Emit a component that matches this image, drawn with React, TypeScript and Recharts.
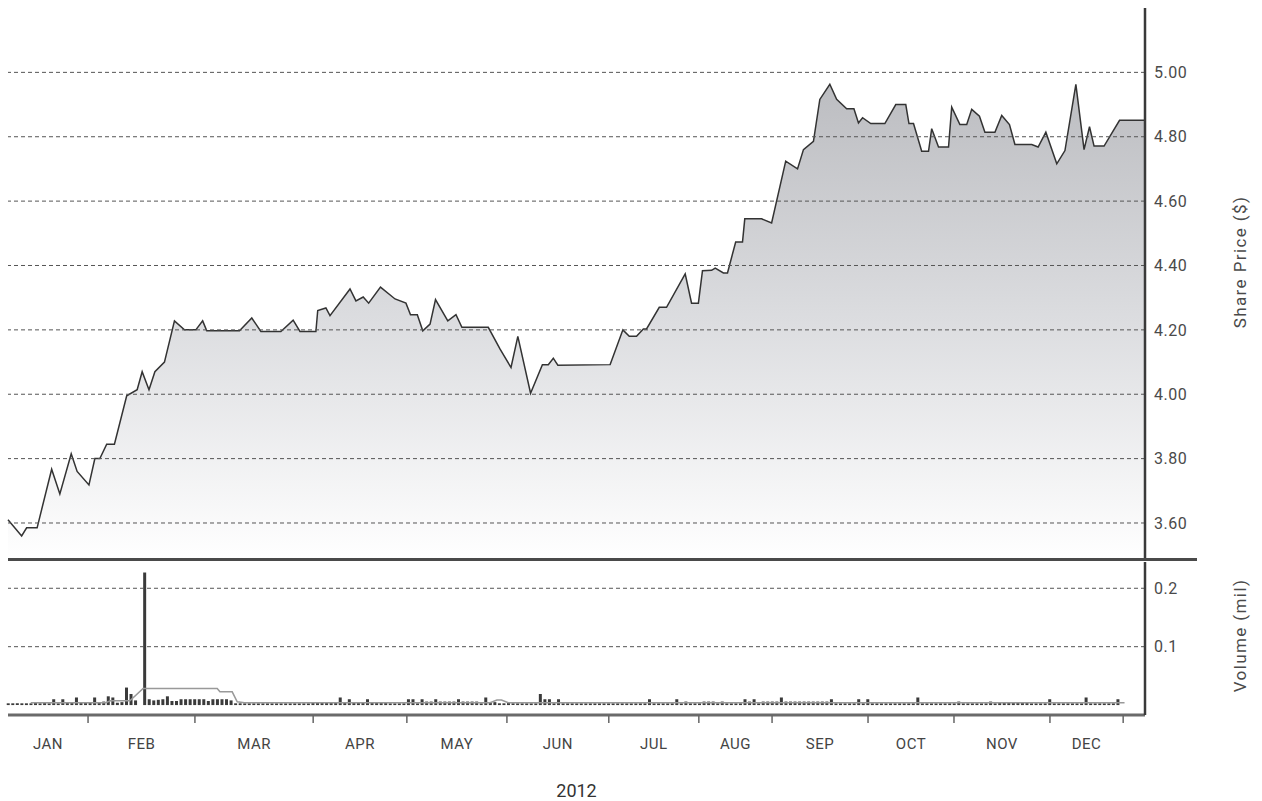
import React from 'react';
import { AreaChart, Area, ComposedChart, Bar, Line, XAxis, YAxis, ReferenceLine } from 'recharts';

// trading-day index (0..250) of each price point, and the closing price
const priceDays = [
  0, 3.0, 4.1, 6.4, 9.6, 11.4, 13.9, 15.2, 17.8, 19.1, 20.2, 21.7, 23.4, 26.1, 28.4, 29.5, 31.0, 32.3, 34.4,
  36.6, 38.8, 41.3, 42.8, 43.7, 50.9, 53.6, 55.6, 60.0, 62.7, 64.2, 67.7, 68.1, 69.9, 70.8, 75.2, 76.5, 78.1,
  79.3, 81.9, 85.1, 87.5, 88.5, 90.0, 91.2, 92.8, 94.0, 96.7, 98.5, 99.8, 105.6, 108.2, 110.6, 112.1, 114.9,
  117.5, 118.8, 119.9, 120.9, 132.4, 135.2, 136.6, 138.2, 139.7, 140.4, 143.2, 144.8, 148.9, 150.3, 151.8,
  152.7, 154.7, 155.5, 157.3, 158.2, 160.0, 161.5, 162.0, 165.7, 167.9, 171.0, 173.6, 174.9, 177.1, 178.5,
  180.7, 182.2, 184.4, 186.0, 187.0, 187.9, 189.7, 192.8, 195.2, 197.4, 198.1, 199.1, 200.9, 202.4, 203.1,
  204.6, 206.8, 207.5, 209.3, 210.8, 211.9, 213.6, 214.8, 217.0, 218.5, 220.2, 221.4, 225.1, 226.5, 228.2,
  230.6, 232.4, 234.8, 236.6, 237.8, 238.8, 241.0, 244.4, 250,
];
const prices = [
  3.61, 3.56, 3.585, 3.585, 3.767, 3.69, 3.815, 3.76, 3.718, 3.8, 3.8, 3.845, 3.845, 3.995, 4.014, 4.07, 4.014, 4.07, 4.1,
  4.228, 4.2, 4.2, 4.228, 4.197, 4.197, 4.237, 4.195, 4.195, 4.23, 4.195, 4.195, 4.26, 4.268, 4.244, 4.327, 4.29, 4.302,
  4.283, 4.333, 4.296, 4.283, 4.247, 4.247, 4.197, 4.218, 4.294, 4.228, 4.247, 4.208, 4.208, 4.14, 4.083, 4.18, 4.003,
  4.092, 4.092, 4.112, 4.09, 4.092, 4.2, 4.18, 4.18, 4.203, 4.203, 4.27, 4.27, 4.374, 4.283, 4.283,
  4.384, 4.385, 4.392, 4.377, 4.377, 4.473, 4.473, 4.545, 4.545, 4.532, 4.724, 4.7, 4.76, 4.786, 4.916,
  4.963, 4.916, 4.887, 4.887, 4.843, 4.859, 4.841, 4.841, 4.9, 4.9, 4.841, 4.841, 4.755, 4.755, 4.825,
  4.768, 4.768, 4.892, 4.838, 4.838, 4.885, 4.864, 4.814, 4.814, 4.866, 4.838, 4.776, 4.776, 4.768, 4.814,
  4.716, 4.757, 4.963, 4.76, 4.831, 4.771, 4.771, 4.851, 4.851,
];

// daily volume (mil), one value per trading day 0..249
const volumes = [
  0.003, 0.003, 0.003, 0.003, 0.003, 0.003, 0.004, 0.003, 0.005, 0.003,
  0.01, 0.003, 0.01, 0.004, 0.004, 0.013, 0.004, 0.005, 0.004, 0.013,
  0.005, 0.006, 0.015, 0.013, 0.004, 0.005, 0.03, 0.019, 0.008, 0,
  0.227, 0.01, 0.008, 0.009, 0.01, 0.015, 0.007, 0.007, 0.01, 0.01,
  0.01, 0.01, 0.01, 0.01, 0.007, 0.01, 0.01, 0.01, 0.01, 0.008,
  0.003, 0.003, 0.003, 0.003, 0.003, 0.003, 0.003, 0.003, 0.003, 0.003,
  0.003, 0.003, 0.003, 0.003, 0.003, 0.003, 0.003, 0.005, 0.005, 0.005,
  0.005, 0.005, 0.005, 0.013, 0.005, 0.01, 0.005, 0.005, 0.005, 0.01,
  0.005, 0.005, 0.005, 0.005, 0.003, 0.003, 0.003, 0.003, 0.01, 0.01,
  0.003, 0.01, 0.006, 0.006, 0.01, 0.006, 0.006, 0.006, 0.006, 0.01,
  0.006, 0.006, 0.006, 0.006, 0.003, 0.013, 0.005, 0.005, 0.003, 0.003,
  0.004, 0.003, 0.003, 0.003, 0.003, 0.003, 0.003, 0.019, 0.01, 0.01,
  0.003, 0.01, 0.003, 0.003, 0.003, 0.003, 0.003, 0.003, 0.003, 0.003,
  0.003, 0.003, 0.003, 0.003, 0.003, 0.003, 0.003, 0.003, 0.003, 0.003,
  0.003, 0.01, 0.003, 0.003, 0.003, 0.003, 0.003, 0.01, 0.003, 0.006,
  0.003, 0.003, 0.003, 0.006, 0.006, 0.006, 0.003, 0.006, 0.003, 0.003,
  0.003, 0.003, 0.01, 0.006, 0.01, 0.003, 0.006, 0.006, 0.006, 0.006,
  0.013, 0.006, 0.006, 0.006, 0.006, 0.006, 0.006, 0.006, 0.006, 0.006,
  0.006, 0.01, 0.003, 0.003, 0.003, 0.003, 0.003, 0.01, 0.003, 0.01,
  0.003, 0.003, 0.003, 0.003, 0.003, 0.003, 0.003, 0.003, 0.003, 0.003,
  0.013, 0.003, 0.003, 0.003, 0.003, 0.003, 0.003, 0.003, 0.003, 0.006,
  0.003, 0.003, 0.003, 0.003, 0.003, 0.003, 0.006, 0.003, 0.005, 0.005,
  0.005, 0.005, 0.005, 0.005, 0.005, 0.003, 0.003, 0.003, 0.003, 0.01,
  0.003, 0.003, 0.003, 0.003, 0.003, 0.003, 0.003, 0.013, 0.003, 0.003,
  0.003, 0.003, 0.003, 0.003, 0.01, 0, 0, 0, 0, 0,
];

// average volume line
const avgDays = [5, 21.5, 22.5, 26.8, 29.7, 46, 46.6, 49.3, 50.4, 52, 106, 107.5, 108.5, 110, 245.5];
const avgVolumes = [0.004, 0.004, 0.0073, 0.0073, 0.0285, 0.0285, 0.0227, 0.0227, 0.0056, 0.004, 0.004, 0.0085, 0.0085, 0.004, 0.004];

const months = ['JAN', 'FEB', 'MAR', 'APR', 'MAY', 'JUN', 'JUL', 'AUG', 'SEP', 'OCT', 'NOV', 'DEC'];
const monthEnds = [17.6, 41.1, 67.1, 87.7, 109.7, 132.1, 151.9, 168.0, 189.1, 208.0, 229.1, 245.2];
const priceTicks = [3.6, 3.8, 4.0, 4.2, 4.4, 4.6, 4.8, 5.0];
const volumeTicks = [0.1, 0.2];

const priceData = priceDays.map((day, i) => ({ day, price: prices[i] }));
const volumeData = volumes.map((volume, day) => ({ day, volume }));
const avgData = avgDays.map((day, i) => ({ day, avg: avgVolumes[i] }));
const labelTicks = monthEnds.map((end, i) => ((i === 0 ? 0 : monthEnds[i - 1]) + end) / 2);

const FONT = 'Roboto, "DejaVu Sans", sans-serif';
const TEXT = '#4a4a4a';

const sideTitle = (shift: number) => (props: any) => {
  const vb = props.viewBox;
  if (!vb) return null;
  const cx = vb.x + vb.width - 22;
  const cy = vb.y + vb.height / 2 + shift;
  return (
    <text
      x={cx}
      y={cy}
      transform={`rotate(-90 ${cx} ${cy})`}
      textAnchor="middle"
      dominantBaseline="central"
      fill={TEXT}
      fontSize={17}
      letterSpacing={1.4}
      fontFamily={FONT}
    >
      {props.value}
    </text>
  );
};

export default function App() {
  return (
    <div style={{ position: 'absolute', left: 0, top: 0, width: 1262, height: 801, background: '#fff', fontFamily: FONT }}>
      <div style={{ position: 'absolute', left: 0, top: 0 }}>
        <AreaChart width={1262} height={562} data={priceData} margin={{ top: 8, right: 0, bottom: 2, left: 8 }}>
          <defs>
            <linearGradient id="priceFill" x1="0" y1="0" x2="0" y2="1">
              <stop offset="0%" stopColor="#bcbdc1" />
              <stop offset="50%" stopColor="#dcdde0" />
              <stop offset="100%" stopColor="#ffffff" />
            </linearGradient>
          </defs>
          <XAxis dataKey="day" type="number" domain={[0, 250]} hide />
          <YAxis
            orientation="right"
            width={117}
            type="number"
            domain={[3.485, 5.2]}
            ticks={priceTicks}
            interval={0}
            tickFormatter={(v: number) => v.toFixed(2)}
            tick={{ fill: TEXT, fontSize: 16, fontFamily: FONT, letterSpacing: 0.5 }}
            tickLine={false}
            tickSize={0}
            tickMargin={9}
            axisLine={{ stroke: '#3a3a3a', strokeWidth: 2.5 }}
            label={{ value: 'Share Price ($)', content: sideTitle(-22) }}
          />
          <Area
            type="linear"
            dataKey="price"
            stroke="#333"
            strokeWidth={1.5}
            fill="url(#priceFill)"
            fillOpacity={1}
            dot={false}
            activeDot={false}
            isAnimationActive={false}
          />
          {priceTicks.map((t) => (
            <ReferenceLine key={t} y={t} stroke="#555" strokeWidth={1} strokeDasharray="4 3" />
          ))}
        </AreaChart>
      </div>

      <div style={{ position: 'absolute', left: 8, top: 558, width: 1189, height: 3, background: '#4a4a4a' }} />

      <div style={{ position: 'absolute', left: 0, top: 560 }}>
        <ComposedChart width={1262} height={241} data={volumeData} margin={{ top: 2, right: 0, bottom: 0, left: 8 }}>
          <XAxis
            dataKey="day"
            type="number"
            domain={[0, 250]}
            ticks={monthEnds}
            interval={0}
            height={10}
            tickFormatter={() => ''}
            tickSize={8}
            tickLine={{ stroke: '#666', strokeWidth: 1.5 }}
            axisLine={{ stroke: '#6a6a6a', strokeWidth: 3 }}
          />
          <XAxis
            xAxisId="labels"
            dataKey="day"
            type="number"
            domain={[0, 250]}
            ticks={labelTicks}
            interval={0}
            height={76}
            tickFormatter={(_v: number, i: number) => months[i]}
            tick={{ fill: '#444', fontSize: 15, fontFamily: FONT, letterSpacing: 0.5 }}
            tickLine={false}
            tickSize={0}
            tickMargin={13}
            axisLine={false}
            label={{ value: '2012', position: 'insideBottom', offset: 4, fill: '#333', fontSize: 18, fontFamily: FONT }}
          />
          <YAxis
            orientation="right"
            width={117}
            type="number"
            domain={[-0.017, 0.245]}
            ticks={volumeTicks}
            interval={0}
            tickFormatter={(v: number) => String(v)}
            tick={{ fill: TEXT, fontSize: 16, fontFamily: FONT, letterSpacing: 0.5 }}
            tickLine={false}
            tickSize={0}
            tickMargin={9}
            axisLine={{ stroke: '#3a3a3a', strokeWidth: 2.5 }}
            label={{ value: 'Volume (mil)', content: sideTitle(-3) }}
          />
          {volumeTicks.map((t) => (
            <ReferenceLine key={t} y={t} stroke="#555" strokeWidth={1} strokeDasharray="4 3" />
          ))}
          <Bar dataKey="volume" fill="#3a3a3a" barSize={3} isAnimationActive={false} />
          <Line
            xAxisId="labels"
            data={avgData}
            dataKey="avg"
            type="linear"
            stroke="#999"
            strokeWidth={1.5}
            dot={false}
            activeDot={false}
            isAnimationActive={false}
          />
        </ComposedChart>
      </div>
    </div>
  );
}
